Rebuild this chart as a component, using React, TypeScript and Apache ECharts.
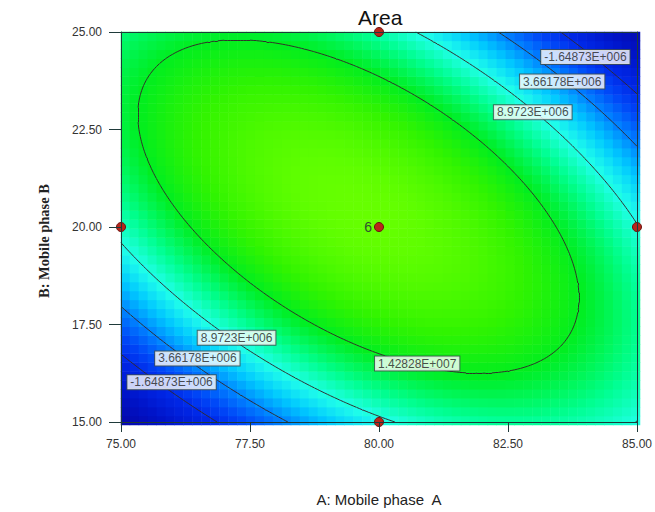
import React, { useEffect, useRef } from "react";
import * as echarts from "echarts";

// Axis ticks (actual factor levels)
const xTicks = [75, 77.5, 80, 82.5, 85];
const yTicks = [15, 17.5, 20, 22.5, 25];

// Quadratic response-surface model in coded units (a = (A-80)/5, b = (B-20)/5)
const modelTerms = ["Intercept", "A", "B", "AB", "A^2", "B^2"];
const modelCoefs = [1.905e7, -4.2e5, 1.16e6, -1.045e7, -9.5e6, -9.5e6];
const factorCenter = [80, 20];
const factorHalfRange = [5, 5];

// Contour levels and their labels
const contourLevels = [-1.64873e6, 3.66178e6, 8.9723e6, 1.42828e7];
const contourLabelText = ["-1.64873E+006", "3.66178E+006", "8.9723E+006", "1.42828E+007"];
const contourLabelA = [84.0, 83.55, 82.98, 77.24, 76.48, 75.98, 80.74];
const contourLabelB = [24.36, 23.73, 22.94, 17.16, 16.63, 16.02, 16.5];
const contourLabelLevel = [0, 1, 2, 2, 1, 0, 3];

// Design points
const designA = [75, 80, 80, 85, 80];
const designB = [20, 25, 20, 20, 15];
const designLabel = ["", "", "6", "", ""];

// Colour ramp stops (response value -> colour)
const colorStopValues = [-1.1e7, -6e6, -1.65e6, 1.0e6, 3.66e6, 6.3e6, 8.97e6, 1.15e7, 1.43e7, 1.65e7, 1.91e7];
const colorStopColors = [
  "#0606a8", "#0014c8", "#0028e8", "#0048f8", "#0080ff", "#00c8ff",
  "#20ffea", "#00ff90", "#00ee20", "#30f400", "#66ff00",
];

const HEAT_NX = 58;
const HEAT_NY = 44;
const CONTOUR_N = 160;

function model(A: number, B: number): number {
  const a = (A - factorCenter[0]) / factorHalfRange[0];
  const b = (B - factorCenter[1]) / factorHalfRange[1];
  const c = modelCoefs;
  return c[0] + c[1] * a + c[2] * b + c[3] * a * b + c[4] * a * a + c[5] * b * b;
}

function hexToRgb(h: string) {
  return [parseInt(h.slice(1, 3), 16), parseInt(h.slice(3, 5), 16), parseInt(h.slice(5, 7), 16)];
}

function colorAt(v: number): string {
  const vs = colorStopValues;
  if (v <= vs[0]) return colorStopColors[0];
  if (v >= vs[vs.length - 1]) return colorStopColors[vs.length - 1];
  let k = 0;
  while (k < vs.length - 2 && v > vs[k + 1]) k++;
  const t = (v - vs[k]) / (vs[k + 1] - vs[k]);
  const a = hexToRgb(colorStopColors[k]);
  const b = hexToRgb(colorStopColors[k + 1]);
  const c = a.map((x, i) => Math.round(x + t * (b[i] - x)));
  return `rgb(${c[0]},${c[1]},${c[2]})`;
}

function contourSegments(level: number) {
  const x0 = xTicks[0], x1 = xTicks[xTicks.length - 1];
  const y0 = yTicks[0], y1 = yTicks[yTicks.length - 1];
  const xs: number[] = [], ys: number[] = [];
  for (let i = 0; i <= CONTOUR_N; i++) {
    xs.push(x0 + ((x1 - x0) * i) / CONTOUR_N);
    ys.push(y0 + ((y1 - y0) * i) / CONTOUR_N);
  }
  const z: number[][] = ys.map((y) => xs.map((x) => model(x, y)));
  const segs: { coords: number[][] }[] = [];
  for (let j = 0; j < CONTOUR_N; j++) {
    for (let i = 0; i < CONTOUR_N; i++) {
      const c = [
        [xs[i], ys[j], z[j][i]],
        [xs[i + 1], ys[j], z[j][i + 1]],
        [xs[i + 1], ys[j + 1], z[j + 1][i + 1]],
        [xs[i], ys[j + 1], z[j + 1][i]],
      ];
      const pts: number[][] = [];
      for (let k = 0; k < 4; k++) {
        const p = c[k], q = c[(k + 1) % 4];
        if ((p[2] - level) * (q[2] - level) < 0) {
          const t = (level - p[2]) / (q[2] - p[2]);
          pts.push([p[0] + t * (q[0] - p[0]), p[1] + t * (q[1] - p[1])]);
        }
      }
      if (pts.length === 2) segs.push({ coords: pts });
      else if (pts.length === 4) {
        segs.push({ coords: [pts[0], pts[1]] });
        segs.push({ coords: [pts[2], pts[3]] });
      }
    }
  }
  return segs;
}

export default function App() {
  const ref = useRef<HTMLDivElement>(null);

  useEffect(() => {
    document.body.style.margin = "0";
    if (!ref.current) return;
    const chart = echarts.init(ref.current, undefined, { renderer: "svg" });

    const x0 = xTicks[0], x1 = xTicks[xTicks.length - 1];
    const y0 = yTicks[0], y1 = yTicks[yTicks.length - 1];
    const heat: number[][] = [];
    let vmin = Infinity, vmax = -Infinity;
    for (let i = 0; i < HEAT_NX; i++) {
      for (let j = 0; j < HEAT_NY; j++) {
        const A = x0 + ((i + 0.5) * (x1 - x0)) / HEAT_NX;
        const B = y0 + ((j + 0.5) * (y1 - y0)) / HEAT_NY;
        const v = model(A, B);
        vmin = Math.min(vmin, v);
        vmax = Math.max(vmax, v);
        heat.push([i, j, v]);
      }
    }
    // evenly spaced colour list for the continuous visualMap
    const NCOL = 80;
    const ramp: string[] = [];
    for (let k = 0; k < NCOL; k++) ramp.push(colorAt(vmin + ((vmax - vmin) * k) / (NCOL - 1)));

    const xCats = Array.from({ length: HEAT_NX }, (_, i) => String(i));
    const yCats = Array.from({ length: HEAT_NY }, (_, j) => String(j));

    const contourData: { coords: number[][] }[] = [];
    contourLevels.forEach((lv) => contourData.push(...contourSegments(lv)));

    const labelData = contourLabelA.map((a, k) => ({
      value: [a, contourLabelB[k]],
      name: contourLabelText[contourLabelLevel[k]],
    }));

    const gridPos = { left: 121, top: 32, width: 519, height: 393 };
    const axisColor = "#1f3a3a";
    const tickFont = { fontFamily: "Arial, 'Liberation Sans', sans-serif", fontSize: 12, color: "#333" };

    chart.setOption({
      animation: false,
      title: {
        text: "Area",
        left: 353,
        top: 2,
        textStyle: { fontFamily: "Arial, 'Liberation Sans', sans-serif", fontSize: 21, fontWeight: "normal", color: "#111" },
      },
      grid: [{ ...gridPos }, { ...gridPos }],
      visualMap: {
        type: "continuous",
        show: false,
        seriesIndex: 0,
        dimension: 2,
        min: vmin,
        max: vmax,
        inRange: { color: ramp },
      },
      xAxis: [
        { gridIndex: 0, type: "category", data: xCats, show: false },
        {
          gridIndex: 1,
          type: "value",
          min: x0,
          max: x1,
          interval: 2.5,
          position: "bottom",
          z: 10,
          axisLine: { show: true, lineStyle: { color: axisColor, width: 1 } },
          axisTick: { show: true, length: 10, lineStyle: { color: axisColor } },
          axisLabel: { ...tickFont, margin: 16, formatter: (v: number) => v.toFixed(2) },
          splitLine: { show: false },
          name: "A: Mobile phase  A",
          nameLocation: "middle",
          nameGap: 70,
          nameTextStyle: { fontFamily: "Arial, 'Liberation Sans', sans-serif", fontSize: 15, color: "#222" },
        },
        {
          gridIndex: 1,
          type: "value",
          min: x0,
          max: x1,
          position: "top",
          z: 10,
          axisLine: { show: true, lineStyle: { color: axisColor, width: 1 } },
          axisTick: { show: false },
          axisLabel: { show: false },
          splitLine: { show: false },
        },
      ],
      yAxis: [
        { gridIndex: 0, type: "category", data: yCats, show: false },
        {
          gridIndex: 1,
          type: "value",
          min: y0,
          max: y1,
          interval: 2.5,
          position: "left",
          z: 10,
          axisLine: { show: true, lineStyle: { color: axisColor, width: 1 } },
          axisTick: { show: true, length: 12, lineStyle: { color: axisColor } },
          axisLabel: { ...tickFont, margin: 19, formatter: (v: number) => v.toFixed(2) },
          splitLine: { show: false },
          name: "B: Mobile phase B",
          nameLocation: "middle",
          nameGap: 70,
          nameRotate: 90,
          nameTextStyle: {
            fontFamily: "'Liberation Serif', 'DejaVu Serif', serif",
            fontSize: 14.5,
            fontWeight: "bold",
            color: "#222",
            padding: [0, 28, 0, 0],
          },
        },
        {
          gridIndex: 1,
          type: "value",
          min: y0,
          max: y1,
          position: "right",
          z: 10,
          axisLine: { show: true, lineStyle: { color: axisColor, width: 1 } },
          axisTick: { show: false },
          axisLabel: { show: false },
          splitLine: { show: false },
        },
      ],
      series: [
        {
          type: "heatmap",
          xAxisIndex: 0,
          yAxisIndex: 0,
          data: heat,
          progressive: 0,
          silent: true,
          emphasis: { disabled: true },
        },
        {
          type: "lines",
          coordinateSystem: "cartesian2d",
          xAxisIndex: 1,
          yAxisIndex: 1,
          data: contourData,
          silent: true,
          progressive: 0,
          z: 3,
          lineStyle: { color: "#33282a", width: 1, opacity: 0.95, curveness: 0 },
        },
        {
          type: "scatter",
          xAxisIndex: 1,
          yAxisIndex: 1,
          clip: false,
          z: 6,
          symbolSize: 9,
          itemStyle: { color: "#b8261a", borderColor: "#6a1410", borderWidth: 1, opacity: 1 },
          data: designA.map((a, k) => ({
            value: [a, designB[k]],
            label: {
              show: designLabel[k] !== "",
              formatter: designLabel[k],
              position: "left",
              distance: 2,
              color: "#2f4f2f",
              fontSize: 14,
              fontFamily: "Arial, 'Liberation Sans', sans-serif",
            },
          })),
          silent: true,
        },
        {
          type: "scatter",
          xAxisIndex: 1,
          yAxisIndex: 1,
          clip: false,
          z: 5,
          symbolSize: 0,
          silent: true,
          data: labelData,
          label: {
            show: true,
            position: "inside",
            formatter: (p: any) => p.name,
            fontFamily: "Arial, 'Liberation Sans', sans-serif",
            fontSize: 12,
            lineHeight: 12,
            color: "#222",
            backgroundColor: "#ffffff",
            borderColor: "#3c4c4c",
            borderWidth: 1,
            padding: [1, 3],
          },
        },
      ],
    });

    return () => chart.dispose();
  }, []);

  return <div ref={ref} style={{ width: 655, height: 512 }} />;
}
